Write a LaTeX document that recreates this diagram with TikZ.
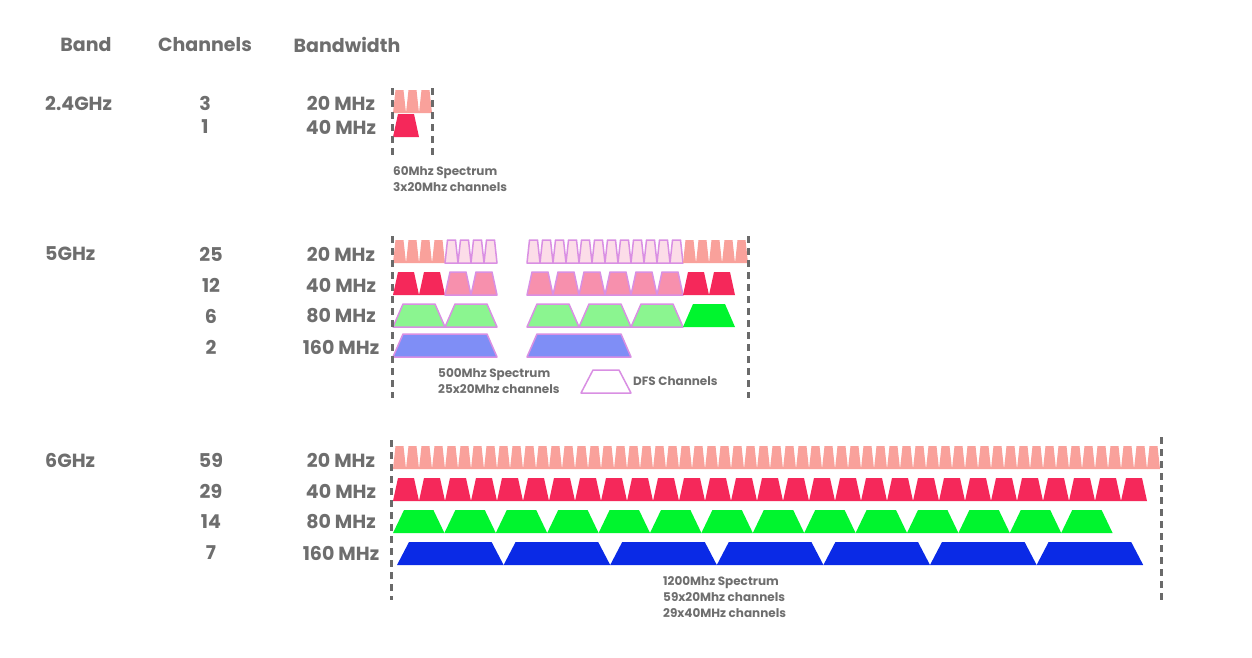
\documentclass[tikz,border=0pt]{standalone}
\usepackage{fontspec}
\setmainfont{Poppins}
\usepackage{tikz}

\definecolor{txtgray}{HTML}{6E6E6E}
\definecolor{dashgray}{HTML}{6A6A6A}
\definecolor{ch20}{HTML}{F9A19B}
\definecolor{ch40}{HTML}{F5285A}
\definecolor{ch80}{HTML}{00F52E}
\definecolor{ch160}{HTML}{0A2AE6}
\definecolor{dfsline}{HTML}{D98FE3}
\definecolor{dfs20}{HTML}{FCDDE8}
\definecolor{dfs40}{HTML}{F790AD}
\definecolor{dfs80}{HTML}{8BF590}
\definecolor{dfs160}{HTML}{7F8EF6}

\tikzset{
  lbl/.style={text=txtgray, font=\fontsize{19}{22}\selectfont\bfseries, inner sep=0pt},
  note/.style={text=txtgray, font=\fontsize{12}{16}\selectfont\bfseries, inner sep=0pt, anchor=west, align=left},
  edge/.style={draw=dashgray, line width=3pt, dash pattern=on 7pt off 5pt},
  dfs/.style={draw=dfsline, line width=1.5pt, line join=round},
}

% one channel: left x, top y, width, inset, style
\newcommand{\chan}[5]{%
  \path[#5] (#1,#2+23) -- (#1+#4,#2) -- (#1+#3-#4,#2) -- (#1+#3,#2+23) -- cycle;}

\begin{document}
\begin{tikzpicture}[x=1pt,y=-1pt]
\fill[white] (0,0) rectangle (1252,657);
\useasboundingbox (0,0) rectangle (1252,657);

% headings
\node[lbl] (hband) at (86,45) {Band};
\node[lbl] (hchan) at (205,45) {Channels};
\node[lbl] (hbw) at (347,45) {Bandwidth};

% 2.4GHz
\node[lbl,anchor=west] (b24) at (45,103) {2.4GHz};
\node[lbl] (n24a) at (205,103) {3};
\node[lbl] (n24b) at (205,127) {1};
\node[lbl] (w24a) at (341,103) {20 MHz};
\node[lbl] (w24b) at (341,127) {40 MHz};
\foreach \i in {0,1,2} \chan{393+13*\i}{90}{13}{2.5}{fill=ch20};
\chan{393}{114}{26}{5}{fill=ch40};
\draw[edge] (392,88) -- (392,155);
\draw[edge] (432,88) -- (432,155);
\node[note] (spec24) at (393,179) {60Mhz Spectrum\\3x20Mhz channels};

% 5GHz
\node[lbl,anchor=west] (b5) at (45,254) {5GHz};
\node[lbl] (n5a) at (211,254) {25};
\node[lbl] (n5b) at (211,285) {12};
\node[lbl] (n5c) at (211,316) {6};
\node[lbl] (n5d) at (211,347) {2};
\node[lbl] (w5a) at (341,254) {20 MHz};
\node[lbl] (w5b) at (341,285) {40 MHz};
\node[lbl] (w5c) at (341,316) {80 MHz};
\node[lbl] (w5d) at (341,347) {160 MHz};
\foreach \i in {0,...,3} \chan{393+13*\i}{240}{13}{2.5}{fill=ch20};
\foreach \i in {4,...,7} \chan{393+13*\i}{240}{13}{2.5}{dfs,fill=dfs20};
\foreach \i in {0,...,11} \chan{527+13*\i}{240}{13}{2.5}{dfs,fill=dfs20};
\foreach \i in {12,...,16} \chan{527+13*\i}{240}{13}{2.5}{fill=ch20};
\foreach \i in {0,1} \chan{393+26*\i}{272}{26}{5}{fill=ch40};
\foreach \i in {2,3} \chan{393+26*\i}{272}{26}{5}{dfs,fill=dfs40};
\foreach \i in {0,...,5} \chan{527+26*\i}{272}{26}{5}{dfs,fill=dfs40};
\foreach \i in {6,7} \chan{527+26*\i}{272}{26}{5}{fill=ch40};
\foreach \i in {0,1} \chan{393+52*\i}{304}{52}{10}{dfs,fill=dfs80};
\foreach \i in {0,1,2} \chan{527+52*\i}{304}{52}{10}{dfs,fill=dfs80};
\chan{683}{304}{52}{10}{fill=ch80};
\chan{393}{334}{104}{10}{dfs,fill=dfs160};
\chan{527}{334}{104}{10}{dfs,fill=dfs160};
\draw[edge] (392,236) -- (392,398);
\draw[edge] (748,236) -- (748,398);
\node[note] (spec5) at (438,381) {500Mhz Spectrum\\25x20Mhz channels};
\chan{581}{370}{50}{12}{dfs,fill=white};
\node[note] (dfskey) at (633,381) {DFS Channels};

% 6GHz
\node[lbl,anchor=west] (b6) at (45,460) {6GHz};
\node[lbl] (n6a) at (211,460) {59};
\node[lbl] (n6b) at (211,491) {29};
\node[lbl] (n6c) at (211,522) {14};
\node[lbl] (n6d) at (211,553) {7};
\node[lbl] (w6a) at (341,460) {20 MHz};
\node[lbl] (w6b) at (341,491) {40 MHz};
\node[lbl] (w6c) at (341,522) {80 MHz};
\node[lbl] (w6d) at (341,553) {160 MHz};
\foreach \i in {0,...,58} \chan{393+13*\i}{446}{13}{2.5}{fill=ch20};
\foreach \i in {0,...,28} \chan{393+26*\i}{478}{26}{5}{fill=ch40};
\foreach \i in {0,...,13} \chan{393+51.4*\i}{510}{51.4}{11}{fill=ch80};
\foreach \i in {0,...,6} \chan{397+106.6*\i}{542}{106.6}{12}{fill=ch160};
\draw[edge] (391,440) -- (391,600);
\draw[edge] (1161,437) -- (1161,600);
\node[note] (spec6) at (663,597) {1200Mhz Spectrum\\59x20Mhz channels\\29x40MHz channels};
\end{tikzpicture}
\end{document}
